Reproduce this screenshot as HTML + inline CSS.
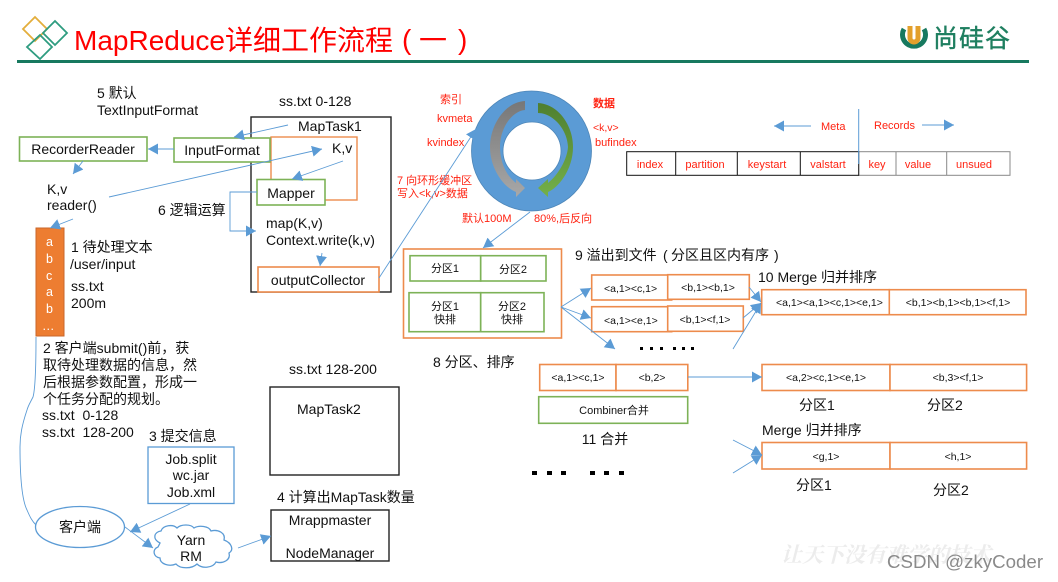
<!DOCTYPE html>
<html><head><meta charset="utf-8"><style>
html,body{margin:0;padding:0;background:#fff;width:1058px;height:582px;overflow:hidden}
svg{display:block;filter:blur(.3px)}
text{font-family:"Liberation Sans","Noto Sans CJK SC",sans-serif;font-size:14px;fill:#111}
.r{fill:#f21;font-size:11px}
.s{font-size:10.5px}
.m{font-size:11px;text-anchor:middle}
.c{text-anchor:middle}
.a{fill:none;stroke:#5B9BD5;stroke-width:.9;marker-end:url(#ar)}
.o{fill:#fff;stroke:#ED8B4C;stroke-width:1.6}
.g{fill:#fff;stroke:#7DB257;stroke-width:1.6}
.k{fill:#fff;stroke:#222;stroke-width:1.4}
</style></head><body>
<svg width="1058" height="582" viewBox="0 0 1058 582" xmlns="http://www.w3.org/2000/svg">
<defs>
<marker id="ar" markerUnits="userSpaceOnUse" markerWidth="13" markerHeight="13" refX="10" refY="5.500" orient="auto"><path d="M0,0L10,5.500L0,11Z" fill="#5B9BD5"/></marker>
<linearGradient id="gg" x1="0" y1="0" x2="0" y2="1"><stop offset="0" stop-color="#777"/><stop offset="1" stop-color="#a8a8a8"/></linearGradient>
<linearGradient id="gr" x1="0" y1="0" x2="0" y2="1"><stop offset="0" stop-color="#4f7f30"/><stop offset="1" stop-color="#74b049"/></linearGradient>
</defs>

<!-- header -->
<rect x="17" y="60" width="1012" height="3" fill="#17795f"/>
<g fill="none" stroke-width="1.8">
<path d="M35,17L47,29L35,41L23,29Z" stroke="#E3AE3C"/>
<path d="M55,21L67,33L55,45L43,33Z" stroke="#2E9C80"/>
<path d="M40,35L52,47L40,59L27,47Z" stroke="#2E9C80"/>
</g>
<text x="74" y="50" style="font-size:28px;fill:#f00">MapReduce详细工作流程</text>
<text x="402" y="49" style="font-size:28px;fill:#f00">(</text>
<text x="419" y="50" style="font-size:28px;fill:#f00">一</text>
<text x="458" y="49" style="font-size:28px;fill:#f00">)</text>
<path d="M904,29A11.500,11.500 0 1,0 924,29" fill="none" stroke="#17795f" stroke-width="5"/>
<path d="M910,26V38a4,4 0 0,0 8,0V26" fill="none" stroke="#E3A02C" stroke-width="5"/>
<text x="933" y="47" style="font-size:25px;fill:#1f7f60;stroke:#1f7f60;stroke-width:.4;letter-spacing:1px">尚硅谷</text>

<!-- top-left -->
<text x="97" y="98">5 默认</text>
<text x="97" y="115">TextInputFormat</text>
<text x="279" y="106">ss.txt 0-128</text>
<rect class="k" x="251" y="117" width="140" height="175"/>
<text x="298" y="131">MapTask1</text>
<rect x="271" y="137" width="86" height="63" fill="none" stroke="#ED8B4C" stroke-width="1.4"/>
<text x="332" y="153">K,v</text>
<rect class="g" x="19.500" y="137" width="127.500" height="24"/>
<text class="c" x="83" y="154">RecorderReader</text>
<rect class="g" x="174" y="138" width="96" height="24"/>
<text class="c" x="222" y="155">InputFormat</text>
<rect class="g" x="257" y="179.500" width="68" height="25.500"/>
<text class="c" x="291" y="198">Mapper</text>
<text x="47" y="194">K,v</text>
<text x="47" y="210">reader()</text>
<text x="158" y="215">6 逻辑运算</text>
<text x="266" y="228">map(K,v)</text>
<text x="266" y="245">Context.write(k,v)</text>
<rect class="o" x="258" y="267" width="121" height="25"/>
<text class="c" x="318" y="285">outputCollector</text>

<rect x="36" y="228" width="28" height="108" fill="#ED7D31" stroke="#C9662A"/>
<text x="46" y="246" style="fill:#fff;font-size:12.500px">a</text>
<text x="46" y="263" style="fill:#fff;font-size:12.500px">b</text>
<text x="46" y="280" style="fill:#fff;font-size:12.500px">c</text>
<text x="46" y="296" style="fill:#fff;font-size:12.500px">a</text>
<text x="46" y="313" style="fill:#fff;font-size:12.500px">b</text>
<text x="42" y="330" style="fill:#fff;font-size:12.500px">…</text>
<text x="71" y="252">1 待处理文本</text>
<text x="70" y="269">/user/input</text>
<text x="71" y="291">ss.txt</text>
<text x="71" y="308">200m</text>

<text x="43" y="353">2 客户端submit()前，获</text>
<text x="43" y="370">取待处理数据的信息，然</text>
<text x="43" y="387">后根据参数配置，形成一</text>
<text x="43" y="404">个任务分配的规划。</text>
<text x="42" y="420" xml:space="preserve">ss.txt  0-128</text>
<text x="42" y="437" xml:space="preserve">ss.txt  128-200</text>
<text x="149" y="441">3 提交信息</text>
<rect x="148" y="447" width="86" height="56.500" fill="#fff" stroke="#5B9BD5" stroke-width="1.3"/>
<text class="c" x="191" y="464">Job.split</text>
<text class="c" x="191" y="480">wc.jar</text>
<text class="c" x="191" y="497">Job.xml</text>

<text x="289" y="374">ss.txt 128-200</text>
<rect class="k" x="270" y="387" width="129" height="88"/>
<text x="297" y="414">MapTask2</text>
<text x="277" y="502">4 计算出MapTask数量</text>
<rect class="k" x="271" y="510" width="118" height="51"/>
<text class="c" x="330" y="525">Mrappmaster</text>
<text class="c" x="330" y="558">NodeManager</text>

<ellipse cx="80" cy="527" rx="44.500" ry="20.500" fill="#fff" stroke="#5B9BD5" stroke-width="1.3"/>
<text class="c" x="80" y="532">客户端</text>
<path d="M160,543c-8,-4 -6,-11 1,-12c2,-6 12,-7 16,-3c4,-4 14,-4 17,0c5,-3 15,-2 17,3c7,-2 15,2 13,9c8,3 10,10 5,13c2,7 -6,11 -13,9c-3,6 -14,7 -19,2c-5,5 -17,5 -21,0c-7,3 -16,0 -16,-6c-7,-1 -8,-9 -2,-11Z" fill="#fff" stroke="#5B9BD5" stroke-width="1.3"/>
<text class="c" x="191" y="545">Yarn</text>
<text class="c" x="191" y="561">RM</text>

<path d="M36,337C36,370 35,390 33,397C30,403 28,406 27,410C22,425 20,435 20,447C20,475 22,500 27,510C30,517 32,521 36,525" fill="none" stroke="#5B9BD5" stroke-width=".9"/>

<!-- ring -->
<path fill-rule="evenodd" d="M591.500,151a60,60 0 1,0 -120,0a60,60 0 1,0 120,0ZM561,151a29,29 0 1,1 -58,0a29,29 0 1,1 58,0Z" fill="#5B9BD5" stroke="#4d86b8" stroke-width=".8"/>
<path d="M525,101C505,102 490,125 490,147C490,170 505,188 516,192L516,197L525,188L516,179L516,183C505,175 500,160 500,147C500,128 512,111 525,110Z" fill="url(#gg)"/>
<path d="M538,103C558,104 573,125 573,147C573,170 558,188 548,192L548,197L538,188L548,179L548,183C558,175 567,160 568,147C567,128 552,113 538,113Z" fill="url(#gr)"/>

<text class="r" x="440" y="103">索引</text>
<text class="r" x="437" y="122">kvmeta</text>
<text class="r" x="427" y="146">kvindex</text>
<text class="r" x="593" y="107" style="font-weight:bold">数据</text>
<text class="r" x="593" y="131" style="font-size:10.500px">&lt;k,v&gt;</text>
<text class="r" x="595" y="146">bufindex</text>
<text class="r" x="397" y="184">7 向环形缓冲区</text>
<text class="r" x="397" y="197">写入&lt;k,v&gt;数据</text>
<text class="r" x="462" y="222">默认100M</text>
<text class="r" x="534" y="222">80%,后反向</text>

<!-- meta table -->
<rect x="858.700" y="151.700" width="151.300" height="23.600" fill="#fff" stroke="#888" stroke-width="1"/>
<path d="M896,151.700V175.300M946.700,151.700V175.300" stroke="#888" stroke-width="1"/>
<rect x="626.700" y="151.700" width="232" height="23.600" fill="#fff" stroke="#111" stroke-width="1"/>
<path d="M675.700,151.700V175.300M737.300,151.700V175.300M800.300,151.700V175.300" stroke="#111" stroke-width="1"/>
<text class="r m" x="650" y="168">index</text>
<text class="r m" x="705" y="168">partition</text>
<text class="r m" x="767" y="168">keystart</text>
<text class="r m" x="828" y="168">valstart</text>
<text class="r m" x="877" y="168">key</text>
<text class="r m" x="918" y="168">value</text>
<text class="r m" x="974" y="168">unsued</text>
<text class="r" x="821" y="130">Meta</text>
<text class="r" x="874" y="129">Records</text>
<path d="M858.700,109V164" stroke="#5B9BD5" fill="none"/>

<!-- partitions -->
<rect class="o" x="403.500" y="249" width="158" height="89"/>
<rect class="g" x="410" y="255.700" width="70.700" height="25.300"/>
<rect class="g" x="480.700" y="255.700" width="65.300" height="25.300"/>
<rect class="g" x="409" y="292.700" width="71.700" height="39"/>
<rect class="g" x="480.700" y="292.700" width="63.300" height="39"/>
<text class="m" x="445" y="272">分区1</text>
<text class="m" x="513" y="273">分区2</text>
<text class="m" x="445" y="310">分区1</text>
<text class="m" x="445" y="323">快排</text>
<text class="m" x="512" y="310">分区2</text>
<text class="m" x="512" y="323">快排</text>
<text x="433" y="367">8 分区、排序</text>

<text x="575" y="260">9 溢出到文件</text>
<text x="663" y="260">(</text>
<text x="671" y="260">分区且区内有序</text>
<text x="774" y="260">)</text>
<rect class="o" x="591.700" y="275" width="80" height="25"/>
<rect class="o" x="667.700" y="274.700" width="81.600" height="24.600"/>
<rect class="o" x="591.700" y="306.700" width="80" height="25"/>
<rect class="o" x="667.700" y="306" width="75.600" height="25.300"/>
<text class="s" x="604" y="292">&lt;a,1&gt;&lt;c,1&gt;</text>
<text class="s c" x="708" y="291">&lt;b,1&gt;&lt;b,1&gt;</text>
<text class="s" x="604" y="324">&lt;a,1&gt;&lt;e,1&gt;</text>
<text class="s c" x="705" y="323">&lt;b,1&gt;&lt;f,1&gt;</text>
<text x="758" y="282">10 Merge 归并排序</text>
<rect class="o" x="761.700" y="289.700" width="127.600" height="25"/>
<rect class="o" x="889.300" y="289.700" width="136.700" height="25"/>
<text class="s" x="776" y="306">&lt;a,1&gt;&lt;a,1&gt;&lt;c,1&gt;&lt;e,1&gt;</text>
<text class="s c" x="958" y="306">&lt;b,1&gt;&lt;b,1&gt;&lt;b,1&gt;&lt;f,1&gt;</text>

<g fill="#000">
<rect x="640" y="347" width="3" height="3"/><rect x="650" y="347" width="3" height="3"/><rect x="660" y="347" width="3" height="3"/>
<rect x="673" y="347" width="3" height="3"/><rect x="682" y="347" width="3" height="3"/><rect x="691" y="347" width="3" height="3"/>
<rect x="532" y="471" width="5" height="4"/><rect x="547" y="471" width="5" height="4"/><rect x="561" y="471" width="5" height="4"/>
<rect x="590" y="471" width="5" height="4"/><rect x="604" y="471" width="5" height="4"/><rect x="619" y="471" width="5" height="4"/>
</g>

<rect class="o" x="539.700" y="364.500" width="76.300" height="26"/>
<rect class="o" x="616" y="364.500" width="71.800" height="26"/>
<text class="s c" x="578" y="381">&lt;a,1&gt;&lt;c,1&gt;</text>
<text class="s c" x="652" y="381">&lt;b,2&gt;</text>
<rect class="g" x="538.700" y="396.700" width="149" height="26.600"/>
<text class="m" x="614" y="414">Combiner合并</text>
<text class="c" x="605" y="444">11 合并</text>

<rect class="o" x="762" y="364.500" width="128" height="26"/>
<rect class="o" x="890" y="364.500" width="136.600" height="26"/>
<text class="s c" x="826" y="381">&lt;a,2&gt;&lt;c,1&gt;&lt;e,1&gt;</text>
<text class="s c" x="958" y="381">&lt;b,3&gt;&lt;f,1&gt;</text>
<text x="799" y="410">分区1</text>
<text x="927" y="410">分区2</text>
<text x="762" y="435">Merge 归并排序</text>
<rect class="o" x="762" y="442.500" width="128" height="26.500"/>
<rect class="o" x="890" y="442.500" width="136.600" height="26.500"/>
<text class="s c" x="826" y="460">&lt;g,1&gt;</text>
<text class="s c" x="958" y="460">&lt;h,1&gt;</text>
<text x="796" y="490">分区1</text>
<text x="933" y="495">分区2</text>

<!-- connectors -->
<path class="a" d="M288,125L234,137"/>
<path class="a" d="M174,149L148,149"/>
<path class="a" d="M83,161L73,174"/>
<path class="a" d="M109,197L322,149"/>
<path class="a" d="M343,161L292,179"/>
<path class="a" d="M257,192H230V231H256"/>
<path class="a" d="M322,253L320,266"/>
<path class="a" d="M73,219L50,228"/>
<path class="a" d="M379,278L476,129"/>
<path class="a" d="M530,212L483,248"/>
<path class="a" d="M561,307L591,288"/>
<path class="a" d="M561,307L591,318"/>
<path class="a" d="M561,307L615,349"/>
<path class="a" d="M749,287L761,302"/>
<path class="a" d="M743,318L761,303"/>
<path class="a" d="M733,349L761,303"/>
<path class="a" d="M688,377L762,377"/>
<path class="a" d="M733,440L762,455"/>
<path class="a" d="M733,473L762,455"/>
<path class="a" d="M190,504L130,532"/>
<path class="a" d="M125,527L153,548"/>
<path class="a" d="M238,548L271,536"/>
<path class="a" d="M811,126L774,126"/>
<path class="a" d="M922,125L954,125"/>

<!-- watermark -->
<text x="781" y="562" style="font-size:21px;font-style:italic;font-weight:bold;fill:#ececec;font-family:'Noto Serif CJK SC',serif">让天下没有难学的技术</text>
<text x="887" y="568" style="font-size:18.700px;fill:#8a8a8a">CSDN @zkyCoder</text>
</svg>
</body></html>
